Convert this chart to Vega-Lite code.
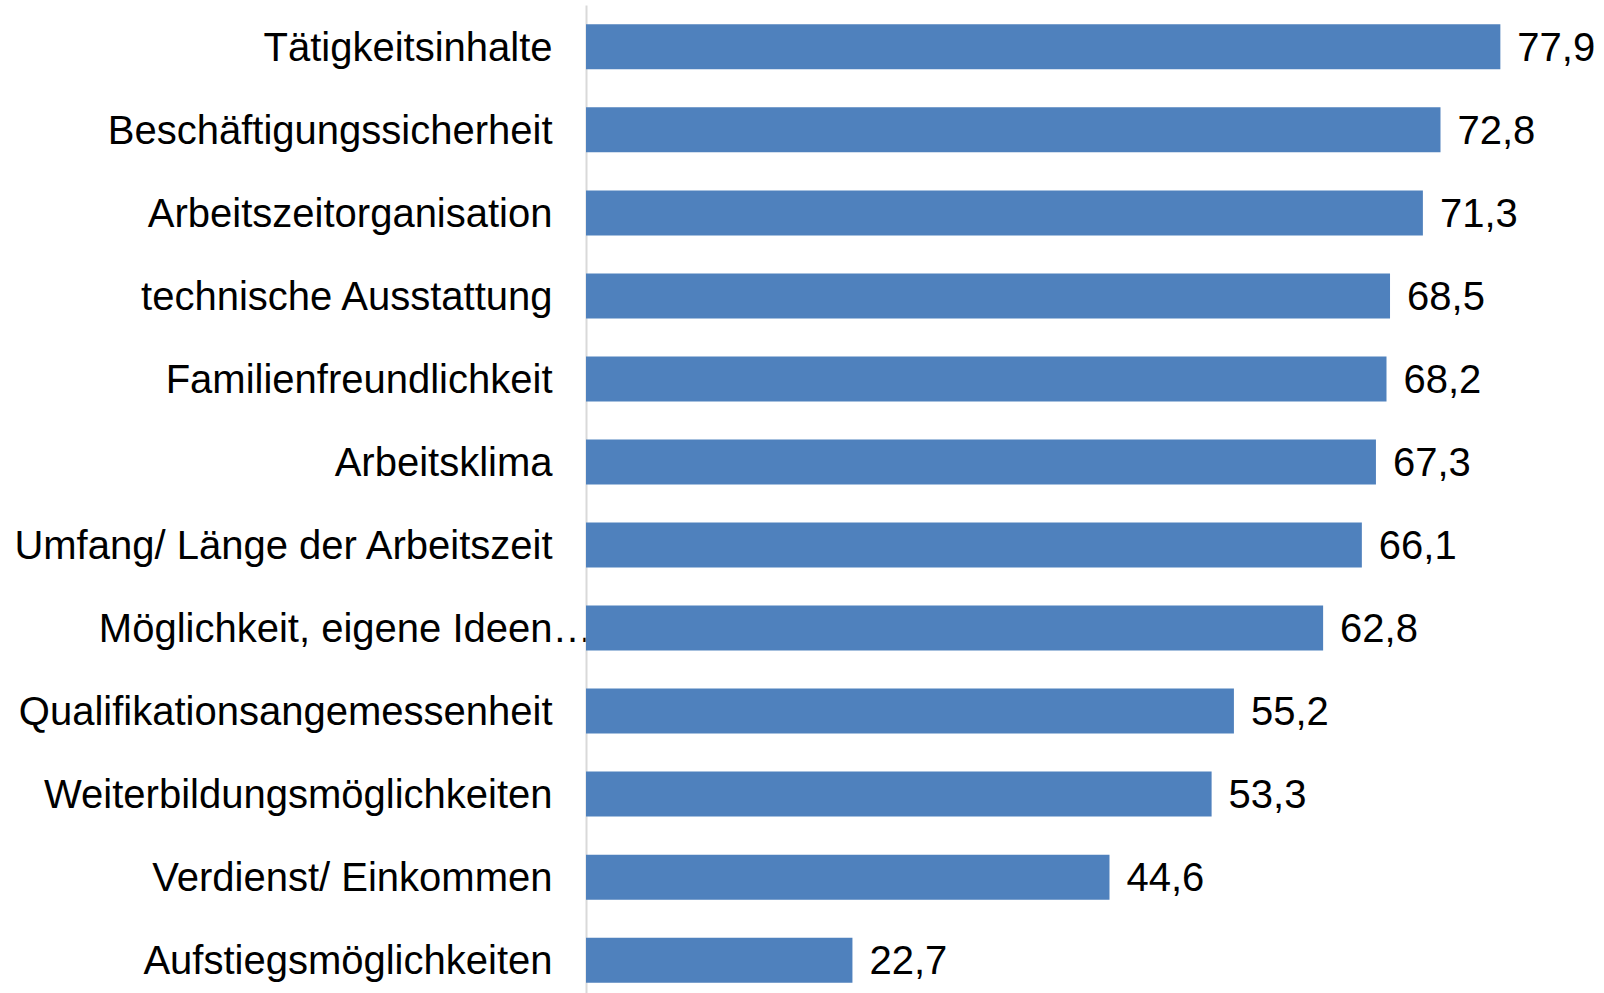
{
  "$schema": "https://vega.github.io/schema/vega-lite/v6.json",
  "autosize": {"type": "none"},
  "padding": {"left": 586, "top": 5, "right": 0, "bottom": 0},
  "width": 1018,
  "height": 988,
  "background": "white",
  "config": {
    "view": {"stroke": null},
    "locale": {"number": {"decimal": ",", "thousands": ".", "grouping": [3], "currency": ["", " €"]}},
    "font": "Liberation Sans"
  },
  "data": {
    "values": [
      {"kategorie": "Tätigkeitsinhalte", "wert": 77.9},
      {"kategorie": "Beschäftigungssicherheit", "wert": 72.8},
      {"kategorie": "Arbeitszeitorganisation", "wert": 71.3},
      {"kategorie": "technische Ausstattung", "wert": 68.5},
      {"kategorie": "Familienfreundlichkeit", "wert": 68.2},
      {"kategorie": "Arbeitsklima", "wert": 67.3},
      {"kategorie": "Umfang/ Länge der Arbeitszeit", "wert": 66.1},
      {"kategorie": "Möglichkeit, eigene Ideen…", "wert": 62.8},
      {"kategorie": "Qualifikationsangemessenheit", "wert": 55.2},
      {"kategorie": "Weiterbildungsmöglichkeiten", "wert": 53.3},
      {"kategorie": "Verdienst/ Einkommen", "wert": 44.6},
      {"kategorie": "Aufstiegsmöglichkeiten", "wert": 22.7}
    ]
  },
  "encoding": {
    "y": {
      "field": "kategorie",
      "type": "nominal",
      "sort": null,
      "scale": {"range": [0, 997], "paddingInner": 0.458, "paddingOuter": 0.2325},
      "axis": {
        "title": null,
        "ticks": false,
        "tickSize": 0,
        "domainColor": "#d9d9d9",
        "domainWidth": 2,
        "labelFont": "Liberation Sans",
        "labelFontSize": 40,
        "labelColor": "#000000",
        "labelLimit": 0,
        "labelOffset": 2,
        "labelPadding": {"condition": {"test": "datum.value === 'Möglichkeit, eigene Ideen…'", "value": -6}, "value": 34}
      }
    },
    "x": {
      "field": "wert",
      "type": "quantitative",
      "scale": {"domain": [0, 86.73], "nice": false, "zero": true},
      "axis": null
    }
  },
  "layer": [
    {
      "mark": {"type": "bar", "color": "#4F81BD"}
    },
    {
      "mark": {"type": "text", "align": "left", "baseline": "middle", "dx": 17, "dy": 2, "font": "Liberation Sans", "fontSize": 40, "color": "#000000"},
      "encoding": {
        "text": {"field": "wert", "type": "quantitative", "format": ".1f"}
      }
    }
  ]
}
